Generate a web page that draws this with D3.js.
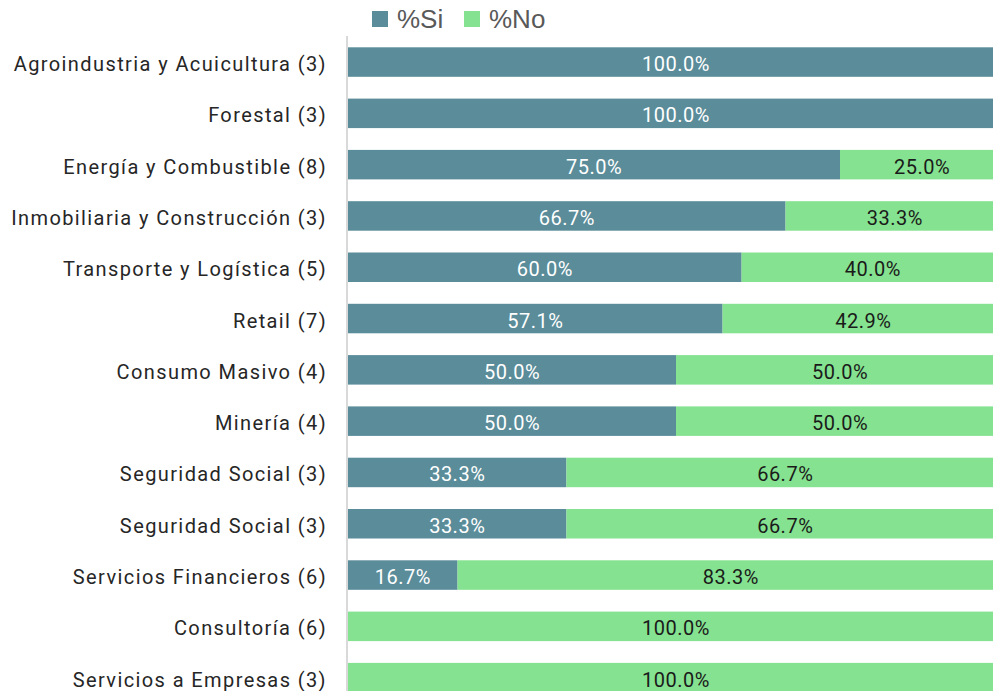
<!DOCTYPE html>
<html><head><meta charset="utf-8">
<script src="https://cdn.jsdelivr.net/npm/d3@7"></script>
<style>body{margin:0;background:#fff}svg{display:block}</style>
</head><body><div id="chart"></div>
<script>
const categories = ["Agroindustria y Acuicultura (3)","Forestal (3)","Energía y Combustible (8)","Inmobiliaria y Construcción (3)","Transporte y Logística (5)","Retail (7)","Consumo Masivo (4)","Minería (4)","Seguridad Social (3)","Seguridad Social (3)","Servicios Financieros (6)","Consultoría (6)","Servicios a Empresas (3)"];
const si = [100.0,100.0,75.0,66.7,60.0,57.1,50.0,50.0,33.3,33.3,16.7,0,0];
const no = [0,0,25.0,33.3,40.0,42.9,50.0,50.0,66.7,66.7,83.3,100.0,100.0];
const seriesNames = ["%Si","%No"];
const colors = ["#5A8C99","#85E290"];

const W=993,H=691;
const svg=d3.select("#chart").append("svg").attr("width",W).attr("height",H);
const x=d3.scaleLinear().domain([0,100]).range([348,1004]);
const y=d3.scaleBand().domain(d3.range(categories.length)).range([36.4,703.3]).paddingInner(0.425).paddingOuter(0.2125);

const rows=categories.map((c,i)=>({i,c,si:si[i],no:no[i]}));
const g=svg.append("g");
g.selectAll("rect.si").data(rows.filter(d=>d.si>0)).join("rect")
 .attr("x",x(0)).attr("y",d=>y(d.i)).attr("width",d=>x(d.si)-x(0)).attr("height",y.bandwidth()).attr("fill",colors[0]);
g.selectAll("rect.no").data(rows.filter(d=>d.no>0)).join("rect")
 .attr("x",d=>x(d.si)).attr("y",d=>y(d.i)).attr("width",d=>x(d.si+d.no)-x(d.si)).attr("height",y.bandwidth()).attr("fill",colors[1]);
const lf="Roboto, sans-serif";
g.selectAll("text.lsi").data(rows.filter(d=>d.si>0)).join("text")
 .attr("x",d=>(x(0)+x(d.si))/2).attr("y",d=>y(d.i)+y.bandwidth()/2+9)
 .attr("text-anchor","middle").attr("font-family",lf).attr("font-size",20).attr("letter-spacing","0.5px").attr("fill","#fff")
 .text(d=>d.si.toFixed(1)+"%");
g.selectAll("text.lno").data(rows.filter(d=>d.no>0)).join("text")
 .attr("x",d=>(x(d.si)+x(d.si+d.no))/2).attr("y",d=>y(d.i)+y.bandwidth()/2+9)
 .attr("text-anchor","middle").attr("font-family",lf).attr("font-size",20).attr("letter-spacing","0.5px").attr("fill","#1a1a1a")
 .text(d=>d.no.toFixed(1)+"%");
const ax=svg.append("g").attr("transform","translate(347,0)")
 .call(d3.axisLeft(y).tickSize(0).tickPadding(20).tickFormat(i=>categories[i]));
ax.select(".domain").attr("stroke","#d9d9d9").attr("stroke-width",2).attr("d","M0,36V691");
ax.selectAll("text").attr("font-family",lf).attr("font-size",20).attr("fill","#262626").attr("letter-spacing","1.4px").attr("dy","0.45em");
const leg=svg.append("g");
const lx=[372,464];
seriesNames.forEach((n,k)=>{
 leg.append("rect").attr("x",lx[k]).attr("y",11).attr("width",16).attr("height",16).attr("fill",colors[k]);
 leg.append("text").attr("x",lx[k]+25).attr("y",28).attr("font-family","Liberation Sans, Arial, sans-serif").attr("font-size",26).attr("fill","#595959").text(n);
});
</script></body></html>
